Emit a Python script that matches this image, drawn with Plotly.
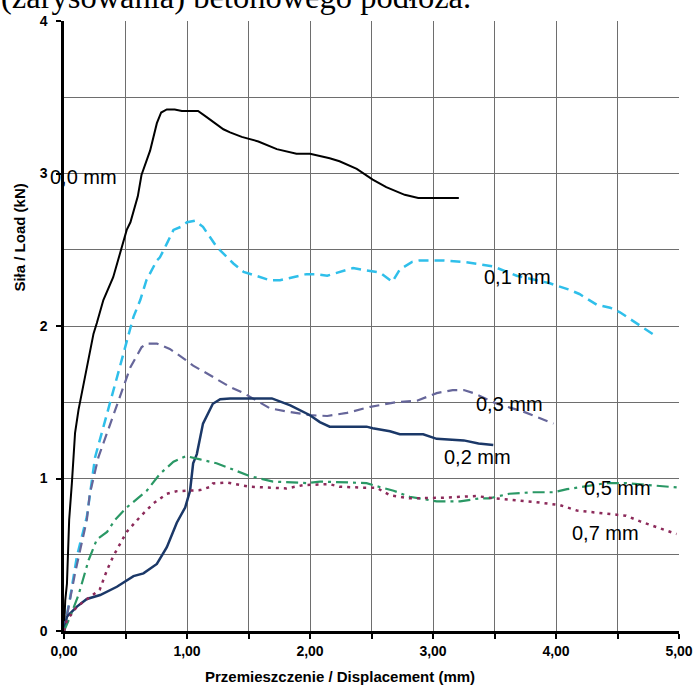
import plotly.graph_objects as go

# ---- data ----
x_00 = [0, 0.01, 0.024, 0.037, 0.042, 0.064, 0.077, 0.09, 0.118, 0.158, 0.2, 0.24, 0.267, 0.32, 0.40, 0.51, 0.54, 0.60, 0.63, 0.70, 0.755, 0.79, 0.836, 0.90, 0.958, 1.09, 1.16, 1.296, 1.35, 1.445, 1.58, 1.73, 1.89, 2.0, 2.16, 2.24, 2.38, 2.51, 2.62, 2.77, 2.88, 3.21]
y_00 = [0, 0.2, 0.31, 0.57, 0.73, 0.97, 1.16, 1.30, 1.45, 1.62, 1.79, 1.95, 2.02, 2.17, 2.32, 2.63, 2.68, 2.85, 2.99, 3.15, 3.33, 3.40, 3.42, 3.42, 3.41, 3.41, 3.37, 3.29, 3.27, 3.24, 3.21, 3.16, 3.13, 3.13, 3.10, 3.08, 3.03, 2.96, 2.91, 2.86, 2.84, 2.84]

x_01 = [0, 0.05, 0.105, 0.186, 0.253, 0.375, 0.45, 0.524, 0.565, 0.62, 0.67, 0.755, 0.78, 0.836, 0.89, 0.95, 1.0, 1.066, 1.13, 1.24, 1.377, 1.46, 1.675, 1.756, 1.97, 2.05, 2.14, 2.35, 2.49, 2.57, 2.67, 2.73, 2.83, 2.89, 3.08, 3.25, 3.38, 3.49, 3.68, 3.95, 4.10, 4.19, 4.33, 4.44, 4.52, 4.61, 4.80]
y_01 = [0, 0.22, 0.49, 0.75, 1.14, 1.51, 1.72, 1.94, 2.06, 2.17, 2.30, 2.43, 2.45, 2.54, 2.63, 2.65, 2.68, 2.69, 2.65, 2.52, 2.41, 2.355, 2.30, 2.30, 2.34, 2.34, 2.33, 2.38, 2.36, 2.35, 2.29, 2.37, 2.42, 2.43, 2.43, 2.42, 2.405, 2.39, 2.33, 2.28, 2.24, 2.21, 2.14, 2.12, 2.09, 2.04, 1.94]

x_03 = [0, 0.05, 0.09, 0.186, 0.21, 0.28, 0.416, 0.54, 0.63, 0.67, 0.755, 0.86, 0.985, 1.05, 1.16, 1.27, 1.35, 1.46, 1.675, 1.81, 2.0, 2.14, 2.30, 2.49, 2.70, 2.87, 3.03, 3.16, 3.25, 3.33, 3.52, 3.73, 3.98]
y_03 = [0, 0.2, 0.38, 0.73, 0.90, 1.14, 1.45, 1.73, 1.86, 1.885, 1.885, 1.85, 1.78, 1.74, 1.69, 1.64, 1.60, 1.56, 1.46, 1.44, 1.415, 1.41, 1.43, 1.47, 1.50, 1.51, 1.56, 1.58, 1.58, 1.56, 1.49, 1.44, 1.36]

x_02 = [0, 0.024, 0.105, 0.186, 0.294, 0.43, 0.565, 0.646, 0.755, 0.836, 0.917, 0.985, 1.025, 1.05, 1.08, 1.13, 1.21, 1.27, 1.35, 1.69, 1.84, 2.0, 2.08, 2.16, 2.46, 2.51, 2.65, 2.73, 2.92, 3.03, 3.25, 3.37, 3.49]
y_02 = [0, 0.094, 0.16, 0.21, 0.236, 0.29, 0.36, 0.378, 0.44, 0.55, 0.71, 0.81, 0.92, 1.10, 1.16, 1.36, 1.49, 1.52, 1.525, 1.525, 1.48, 1.415, 1.37, 1.34, 1.34, 1.33, 1.31, 1.29, 1.29, 1.26, 1.25, 1.23, 1.22]

x_05 = [0, 0.05, 0.118, 0.2, 0.267, 0.35, 0.416, 0.51, 0.673, 0.78, 0.89, 0.99, 1.106, 1.24, 1.35, 1.51, 1.70, 1.97, 2.08, 2.46, 2.54, 2.68, 2.81, 3.03, 3.22, 3.38, 3.46, 3.62, 3.81, 3.98, 4.09, 4.22, 4.41, 4.57, 4.74, 5.0]
y_05 = [0, 0.094, 0.236, 0.465, 0.60, 0.65, 0.73, 0.81, 0.92, 1.03, 1.11, 1.147, 1.125, 1.10, 1.066, 1.016, 0.98, 0.97, 0.98, 0.97, 0.95, 0.92, 0.88, 0.85, 0.85, 0.87, 0.87, 0.90, 0.91, 0.91, 0.93, 0.945, 0.97, 0.97, 0.96, 0.94]

x_07 = [0, 0.024, 0.105, 0.21, 0.29, 0.35, 0.40, 0.51, 0.62, 0.727, 0.836, 0.917, 1.106, 1.19, 1.21, 1.32, 1.43, 1.51, 1.81, 1.95, 2.16, 2.24, 2.43, 2.54, 2.65, 2.81, 3.08, 3.35, 3.50, 3.65, 3.84, 4.03, 4.17, 4.46, 4.57, 4.68, 4.98]
y_07 = [0, 0.07, 0.16, 0.225, 0.27, 0.40, 0.49, 0.65, 0.75, 0.837, 0.90, 0.917, 0.924, 0.945, 0.967, 0.974, 0.957, 0.946, 0.935, 0.957, 0.963, 0.946, 0.94, 0.94, 0.89, 0.87, 0.874, 0.885, 0.87, 0.86, 0.845, 0.826, 0.79, 0.765, 0.756, 0.72, 0.636]

labels = ["0,0 mm", "0,1 mm", "0,3 mm", "0,2 mm", "0,5 mm", "0,7 mm"]
label_x = [0.16, 3.686, 3.62, 3.36, 4.50, 4.405]
label_y = [2.975, 2.32, 1.487, 1.142, 0.939, 0.64]

x_tickvals = [0, 1, 2, 3, 4, 5]
x_ticktext = ["0,00", "1,00", "2,00", "3,00", "4,00", "5,00"]
y_tickvals = [0, 1, 2, 3, 4]
y_ticktext = ["0", "1", "2", "3", "4"]

# ---- figure ----
fig = go.Figure()
series = [
    (x_00, y_00, "#000000", "solid", 2),
    (x_01, y_01, "#2fbfea", "10px,6px", 2.5),
    (x_03, y_03, "#66669a", "10px,6px", 2.2),
    (x_02, y_02, "#1b3868", "solid", 2.5),
    (x_05, y_05, "#2a9865", "12px,5px,3px,5px", 2.2),
    (x_07, y_07, "#8c2a5a", "3px,5px", 2.5),
]
for xs, ys, col, dash, w in series:
    fig.add_trace(go.Scatter(x=xs, y=ys, mode="lines",
                             line=dict(color=col, dash=dash, width=w),
                             showlegend=False, hoverinfo="skip"))

for t, lx, ly in zip(labels, label_x, label_y):
    fig.add_annotation(x=lx, y=ly, xref="x", yref="y", text=t, showarrow=False,
                       xanchor="center", yanchor="middle",
                       font=dict(family="Liberation Sans", size=20, color="#000"))

grid_col = "#6e6e6e"
fig.update_xaxes(range=[0, 5], tickvals=x_tickvals, ticktext=x_ticktext,
                 automargin=False,
                 showgrid=True, gridcolor=grid_col, gridwidth=1,
                 showline=True, linecolor="#000", linewidth=2.5,
                 ticks="outside", ticklen=5, tickcolor="#000", tickwidth=1.5,
                 zeroline=False,
                 tickfont=dict(family="Liberation Sans", size=14, color="#000", weight="bold"),
                 minor=dict(dtick=0.5, tick0=0, showgrid=True, gridcolor=grid_col, gridwidth=1,
                            ticks="outside", ticklen=5, tickcolor="#000", tickwidth=1.5))
fig.update_yaxes(range=[0, 4], tickvals=y_tickvals, ticktext=y_ticktext,
                 automargin=False,
                 showgrid=True, gridcolor=grid_col, gridwidth=1,
                 showline=True, linecolor="#000", linewidth=2.5,
                 ticks="outside", ticklen=5, tickcolor="#000", tickwidth=1.5,
                 zeroline=False, ticklabelstandoff=6,
                 tickfont=dict(family="Liberation Sans", size=14, color="#000", weight="bold"),
                 minor=dict(dtick=0.5, tick0=0, showgrid=True, gridcolor=grid_col, gridwidth=1))

fig.add_annotation(xref="paper", yref="paper", x=0.449, y=-0.0738,
                   text="Przemieszczenie / Displacement (mm)", showarrow=False,
                   xanchor="center", yanchor="middle",
                   font=dict(family="Liberation Sans", size=15, color="#000", weight="bold"))
fig.add_annotation(xref="paper", yref="paper", x=-0.0715, y=0.645,
                   text="Siła / Load (kN)", showarrow=False, textangle=-90,
                   xanchor="center", yanchor="middle",
                   font=dict(family="Liberation Sans", size=15, color="#000", weight="bold"))
fig.add_annotation(xref="paper", yref="paper", x=-0.106, y=1.039,
                   text="(zarysowania) betonowego podłoża.", showarrow=False,
                   xanchor="left", yanchor="middle",
                   font=dict(family="Liberation Serif", size=32.5, color="#000"))

fig.update_layout(width=694, height=686, margin=dict(l=64, r=15, t=21, b=55),
                  paper_bgcolor="white", plot_bgcolor="white")
fig.write_html("out.html")
